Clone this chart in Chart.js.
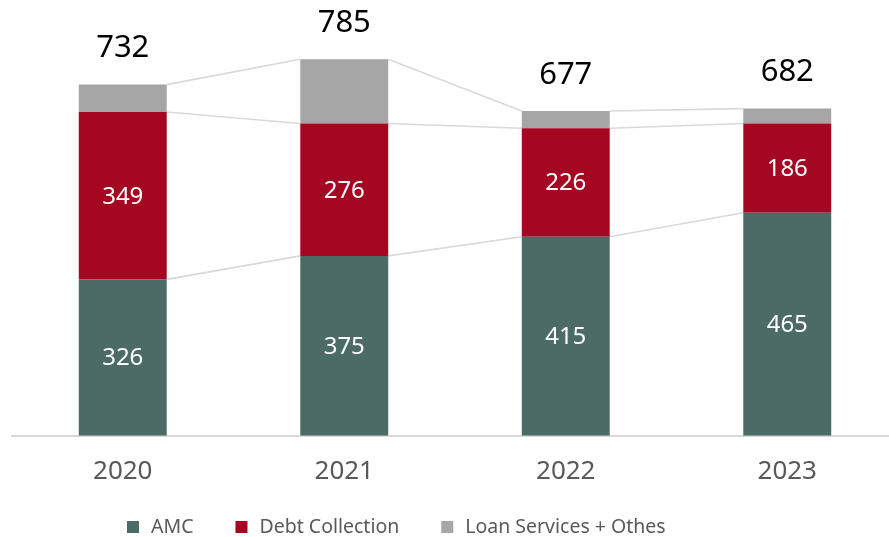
<!DOCTYPE html>
<html>
<head>
<meta charset="utf-8">
<script src="https://cdn.jsdelivr.net/npm/chart.js@4.4.1/dist/chart.umd.min.js"></script>
<style>
  html, body { margin: 0; padding: 0; background: #fff; overflow: hidden; }
  #wrap { width: 900px; height: 537px; }
</style>
</head>
<body>
<div id="wrap"><canvas id="chart"></canvas></div>
<script>
const years = ["2020", "2021", "2022", "2023"];
const amc = [326, 375, 415, 465];
const debtCollection = [349, 276, 226, 186];
const loanServices = [57, 134, 36, 31];

const seriesNames = ["AMC", "Debt Collection", "Loan Services + Othes"];
const seriesColors = ["#4d6b66", "#a50723", "#a6a6a6"];
const FONT = "'Noto Sans', 'Open Sans', sans-serif";

// thin grey lines joining the top corners of each segment across bars
const seriesLines = {
  id: "seriesLines",
  beforeDatasetsDraw(chart) {
    const ctx = chart.ctx;
    ctx.save();
    ctx.strokeStyle = "#d9d9d9";
    ctx.lineWidth = 1.6;
    chart.data.datasets.forEach((ds, i) => {
      const bars = chart.getDatasetMeta(i).data;
      for (let j = 0; j < bars.length - 1; j++) {
        const a = bars[j], b = bars[j + 1];
        ctx.beginPath();
        ctx.moveTo(a.x + a.width / 2, a.y);
        ctx.lineTo(b.x - b.width / 2, b.y);
        ctx.stroke();
      }
    });
    ctx.restore();
  }
};

// segment values inside the bars, totals above
const valueLabels = {
  id: "valueLabels",
  afterDatasetsDraw(chart) {
    const ctx = chart.ctx;
    ctx.save();
    ctx.textAlign = "center";
    ctx.textBaseline = "middle";
    ctx.fillStyle = "#ffffff";
    ctx.font = "24px " + FONT;
    [0, 1].forEach(i => {
      const ds = chart.data.datasets[i];
      chart.getDatasetMeta(i).data.forEach((bar, j) => {
        ctx.fillText(ds.data[j], bar.x, (bar.y + bar.base) / 2 + 1);
      });
    });
    const topMeta = chart.getDatasetMeta(chart.data.datasets.length - 1);
    ctx.fillStyle = "#000000";
    ctx.font = "31px " + FONT;
    years.forEach((y, j) => {
      const total = amc[j] + debtCollection[j] + loanServices[j];
      const bar = topMeta.data[j];
      ctx.fillText(total, bar.x, bar.y - 36);
    });
    ctx.restore();
  }
};

// legend row along the bottom
const bottomLegend = {
  id: "bottomLegend",
  afterDraw(chart) {
    const ctx = chart.ctx;
    ctx.save();
    ctx.font = "19.5px " + FONT;
    ctx.textBaseline = "middle";
    let x = 127;
    const y = 527;
    chart.data.datasets.forEach(ds => {
      ctx.fillStyle = ds.backgroundColor;
      ctx.fillRect(x, y - 6, 12, 12);
      x += 24;
      ctx.fillStyle = "#595959";
      ctx.fillText(ds.label, x, y);
      x += ctx.measureText(ds.label).width + 42;
    });
    ctx.restore();
  }
};

new Chart(document.getElementById("chart"), {
  type: "bar",
  data: {
    labels: years,
    datasets: [
      { label: seriesNames[0], data: amc, backgroundColor: seriesColors[0] },
      { label: seriesNames[1], data: debtCollection, backgroundColor: seriesColors[1] },
      { label: seriesNames[2], data: loanServices, backgroundColor: seriesColors[2] }
    ]
  },
  options: {
    responsive: true,
    maintainAspectRatio: false,
    animation: false,
    categoryPercentage: 1,
    barPercentage: 0.397,
    layout: { padding: { left: 12, right: 2, top: 4, bottom: 38 } },
    plugins: {
      legend: { display: false },
      tooltip: { enabled: false }
    },
    scales: {
      x: {
        stacked: true,
        grid: { display: false },
        border: { display: true, color: "#d9d9d9", width: 2 },
        ticks: { color: "#595959", font: { family: FONT, size: 26 }, padding: 12 }
      },
      y: {
        stacked: true,
        display: false,
        min: 0,
        max: 900
      }
    }
  },
  plugins: [seriesLines, valueLabels, bottomLegend]
});
</script>
</body>
</html>
